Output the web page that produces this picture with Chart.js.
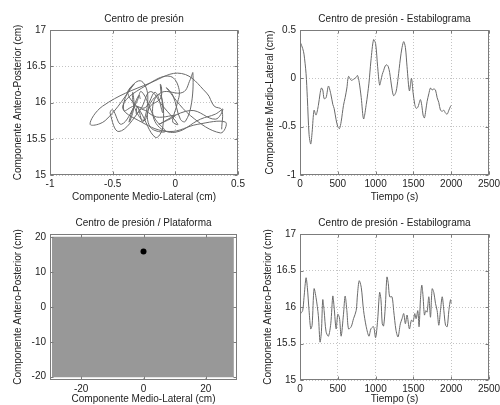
<!DOCTYPE html>
<html><head><meta charset="utf-8">
<script src="https://cdn.jsdelivr.net/npm/chart.js@4.4.0/dist/chart.umd.min.js"></script>
<style>
html,body{margin:0;padding:0;background:#fff;width:500px;height:405px;overflow:hidden;position:relative}
canvas{position:absolute}
</style></head><body>
<canvas id="c1" width="250" height="205" style="left:0;top:0"></canvas>
<canvas id="c2" width="255" height="205" style="left:250px;top:0"></canvas>
<canvas id="c3" width="250" height="205" style="left:0;top:200px"></canvas>
<canvas id="c4" width="255" height="205" style="left:250px;top:200px"></canvas>
<script>
// ---- Datos ----
const tiempo = [0,5,35,53,80,97,120,142,160,186,212,243,265,283,301,319,345,376,407,434,451,478,500,522,544,575,597,620,642,677,708,743,761,783,810,841,876,912,938,973,1000,1027,1053,1071,1088,1106,1128,1150,1168,1186,1217,1239,1270,1297,1327,1350,1372,1394,1416,1447,1474,1496,1518,1536,1558,1575,1593,1611,1628,1646,1664,1681,1704,1726,1748,1770,1792,1814,1836,1858,1881,1903,1925,1947,1969,1991,2000];
const componenteAP = [15.63,15.90,15.95,16.13,16.40,16.27,15.95,15.70,15.75,16.25,16.13,15.88,15.52,15.66,16.10,15.95,15.66,15.60,15.77,16.15,16.00,15.70,15.90,15.85,15.60,15.90,16.15,15.95,15.70,15.73,15.84,15.95,16.18,16.36,16.27,15.95,15.73,15.60,15.70,15.73,15.58,15.82,16.20,16.10,15.77,15.74,16.00,16.41,16.32,16.14,16.14,15.95,15.68,15.59,15.77,15.84,15.91,15.77,15.89,15.70,15.82,15.80,15.91,15.84,15.95,15.73,16.10,16.30,16.14,15.89,15.95,15.93,16.14,15.86,16.25,16.20,16.05,15.95,15.75,15.95,16.14,15.95,15.75,15.73,15.95,16.10,16.05];
const componenteML = [0.37,0.37,0.31,0.25,0.05,-0.20,-0.58,-0.68,-0.56,-0.33,-0.38,-0.28,-0.16,-0.10,-0.12,-0.21,-0.20,-0.08,-0.16,-0.27,-0.31,-0.43,-0.50,-0.52,-0.45,-0.28,-0.20,-0.10,0.02,-0.02,-0.01,0.01,0.03,-0.04,-0.20,-0.42,-0.27,-0.05,0.18,0.40,0.36,0.12,-0.07,-0.02,0.04,0.08,0.13,0.14,0.12,0.06,-0.11,-0.18,-0.14,0.00,0.20,0.32,0.38,0.32,0.12,-0.13,0.00,-0.15,-0.27,-0.31,-0.30,-0.26,-0.22,-0.28,-0.38,-0.41,-0.33,-0.24,-0.16,-0.10,-0.12,-0.11,-0.12,-0.20,-0.25,-0.33,-0.34,-0.33,-0.36,-0.37,-0.33,-0.29,-0.28];
const plataformaX = [-29.4, 29];
const plataformaY = [-20.2, 20.2];
const centroActual = [0, 16];

const ticksML = [-1, -0.5, 0, 0.5];
const ticksAP = [15, 15.5, 16, 16.5, 17];
const ticksTiempo = [0, 500, 1000, 1500, 2000, 2500];
const ticksPlatX = [-20, 0, 20];
const ticksPlatY = [-20, -10, 0, 10, 20];

const titulos = ['Centro de presión', 'Centro de presión - Estabilograma', 'Centro de presión / Plataforma', 'Centro de presión - Estabilograma'];
const etiquetaML = 'Componente Medio-Lateral (cm)';
const etiquetaAP = 'Componente Antero-Posterior (cm)';
const etiquetaT = 'Tiempo (s)';

// ---- Estilo ----
const FAM = '"Liberation Sans", Arial, sans-serif';
const TXT = '#222';
const LINEA = '#6a6a6a';
const MARCO = '#7c7c7c';

const marco = {
  id: 'marco',
  afterDraw(chart) {
    const {ctx, chartArea: a, scales} = chart;
    const L = Math.round(a.left) + 0.5, R = Math.round(a.right) - 0.5;
    const T = Math.round(a.top) + 0.5, B = Math.round(a.bottom) - 0.5;
    ctx.save();
    ctx.strokeStyle = MARCO; ctx.lineWidth = 1;
    ctx.beginPath();
    scales.x.ticks.forEach(t => {
      const p = Math.round(scales.x.getPixelForValue(t.value)) + 0.5;
      ctx.moveTo(p, B); ctx.lineTo(p, B - 3);
      ctx.moveTo(p, T); ctx.lineTo(p, T + 3);
    });
    scales.y.ticks.forEach(t => {
      const p = Math.round(scales.y.getPixelForValue(t.value)) + 0.5;
      ctx.moveTo(L, p); ctx.lineTo(L + 3, p);
      ctx.moveTo(R, p); ctx.lineTo(R - 3, p);
    });
    ctx.stroke();
    ctx.strokeRect(L, T, R - L, B - T);
    ctx.restore();
  }
};

function ejeX(min, max, valores, texto, alto, padTitulo, gridOpts) {
  return {
    type: 'linear', min, max,
    afterBuildTicks: s => { s.ticks = valores.map(v => ({value: v})); },
    afterFit: s => { s.height = alto; },
    ticks: {callback: v => String(v), font: {family: FAM, size: 10}, color: TXT, padding: 3, maxRotation: 0, autoSkip: false},
    grid: Object.assign({color: '#c4c4c4', drawTicks: false, lineWidth: 1}, gridOpts || {}),
    border: {display: false, dash: [1, 2]},
    title: {display: true, text: texto, font: {family: FAM, size: 10}, color: TXT, padding: {top: 0, bottom: padTitulo}}
  };
}
function ejeY(min, max, valores, texto, padTitulo, gridOpts) {
  return {
    type: 'linear', min, max,
    afterBuildTicks: s => { s.ticks = valores.map(v => ({value: v})); },
    afterFit: s => { s.width = 50; },
    ticks: {callback: v => String(v), font: {family: FAM, size: 10}, color: TXT, padding: 4, autoSkip: false},
    grid: Object.assign({color: '#c4c4c4', drawTicks: false, lineWidth: 1}, gridOpts || {}),
    border: {display: false, dash: [1, 2]},
    title: {display: true, text: texto, font: {family: FAM, size: 10}, color: TXT, padding: {top: padTitulo, bottom: 0}}
  };
}
function opciones(titulo, tituloPad, padDer, escalas) {
  return {
    responsive: false, animation: false, devicePixelRatio: 1,
    layout: {padding: {left: 0, right: padDer, top: 0, bottom: 0}},
    plugins: {
      legend: {display: false}, tooltip: {enabled: false},
      title: {display: true, fullSize: false, text: titulo, font: {family: FAM, size: 10, weight: 'normal'}, color: TXT, padding: tituloPad}
    },
    scales: escalas
  };
}
const lineaBase = {borderColor: LINEA, borderWidth: 1, pointRadius: 0, fill: false};

// 1. Centro de presión (ML vs AP)
new Chart(document.getElementById('c1'), {
  type: 'line',
  data: {datasets: [Object.assign({
    data: componenteML.map((x, i) => ({x, y: componenteAP[i]})), tension: 0.4
  }, lineaBase)]},
  options: opciones(titulos[0], {top: 13, bottom: 5}, 12, {
    x: ejeX(-1, 0.5, ticksML, etiquetaML, 30, 2),
    y: ejeY(15, 17, ticksAP, etiquetaAP, 12)
  }),
  plugins: [marco]
});

// 2. Estabilograma ML
new Chart(document.getElementById('c2'), {
  type: 'line',
  data: {datasets: [Object.assign({
    data: tiempo.map((t, i) => ({x: t, y: componenteML[i]})), tension: 0.3
  }, lineaBase)]},
  options: opciones(titulos[1], {top: 13, bottom: 5}, 16, {
    x: ejeX(0, 2500, ticksTiempo, etiquetaT, 30, 2),
    y: ejeY(-1, 0.5, ticksML, etiquetaML, 14)
  }),
  plugins: [marco]
});

// 3. Plataforma
new Chart(document.getElementById('c3'), {
  type: 'line',
  data: {datasets: [
    {data: plataformaX.map(x => ({x, y: plataformaY[1]})), fill: '+1', backgroundColor: '#989898', borderWidth: 0, pointRadius: 0, order: 2},
    {data: plataformaX.map(x => ({x, y: plataformaY[0]})), fill: false, borderWidth: 0, pointRadius: 0, order: 2},
    {data: [{x: centroActual[0], y: centroActual[1]}], showLine: false, pointRadius: 3, pointBackgroundColor: '#000', pointBorderColor: '#000', pointBorderWidth: 0, order: 0}
  ]},
  options: opciones(titulos[2], {top: 17, bottom: 5}, 13, {
    x: ejeX(-30, 30, ticksPlatX, etiquetaML, 25, 0),
    y: ejeY(-21, 21, ticksPlatY, etiquetaAP, 12)
  }),
  plugins: [marco]
});

// 4. Estabilograma AP
new Chart(document.getElementById('c4'), {
  type: 'line',
  data: {datasets: [Object.assign({
    data: tiempo.map((t, i) => ({x: t, y: componenteAP[i]})), tension: 0.3
  }, lineaBase)]},
  options: opciones(titulos[3], {top: 17, bottom: 5}, 16, {
    x: ejeX(0, 2500, ticksTiempo, etiquetaT, 25, 0),
    y: ejeY(15, 17, ticksAP, etiquetaAP, 12)
  }),
  plugins: [marco]
});
</script>
</body></html>
